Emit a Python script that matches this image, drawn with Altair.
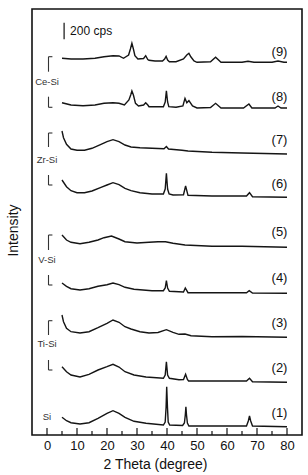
import altair as alt
import pandas as pd

# ---- XRD traces: 2-theta (degree) and stacked intensity (arbitrary units, offset per pattern)
t1_x = [5, 6.5, 8, 11, 14, 17, 20, 22, 24, 26, 29, 33, 38.8, 39.4, 39.7, 39.9, 40.15, 40.4, 40.9,
        45.2, 45.8, 46.1, 46.3, 46.5, 46.8, 47.3, 55, 66.5, 67.1, 67.5, 67.9, 68.5, 80]
t1_y = [17.7, 14.3, 12.3, 11, 12.3, 16.7, 21.7, 24.3, 21.7, 17.7, 13.7, 11.7, 10, 13, 28, 48.3, 28, 13, 10,
        9.5, 12, 20, 28.3, 20, 12, 9, 9, 9, 14, 19, 14, 9, 8.3]

t2_x = [5, 6.5, 8, 11, 14, 17, 20, 22, 24, 26, 29, 33, 38.8, 39.4, 39.8, 40.2, 40.8, 44, 45.5, 46.2,
        46.8, 47.2, 55, 66.5, 67.5, 68.5, 80]
t2_y = [68.3, 63.3, 60, 58, 60.7, 65, 68.3, 70.7, 68, 63.3, 60, 58, 56.7, 60, 73.3, 60, 56.7, 55.3, 55.5, 60.7,
        55.5, 54, 54, 54, 56.7, 53.3, 52.7]

t3_x = [5, 5.5, 6.5, 8, 11, 14, 17, 20, 22, 24, 26, 28, 31, 34, 37, 39.8, 42, 44, 46, 48, 55, 65, 80]
t3_y = [120, 113.3, 106.7, 103.3, 102, 103.3, 107.3, 111.7, 115, 112.7, 108.3, 106, 103.3, 102, 102.5, 105.3,
        102.7, 100.7, 101, 99.3, 98.3, 98.5, 97.7]

t4_x = [5, 6.5, 8, 11, 14, 17, 20, 22, 24, 26, 29, 35, 38.8, 39.4, 39.8, 40.2, 40.8, 45.5, 46.1, 47, 55,
        66.5, 67.4, 68.5, 80]
t4_y = [152, 148.7, 146.3, 145, 146.3, 148.7, 150.3, 152, 150.3, 147.7, 145.7, 144.3, 144.3, 147, 154.3, 147,
        143.7, 143, 147, 142.3, 142.3, 142.3, 144.3, 142, 141.7]

t5_x = [5, 6.5, 8, 11, 14, 17, 19, 21.5, 24, 26, 30, 34, 37, 39.5, 42, 46, 55, 65, 80]
t5_y = [200, 195, 192.7, 191.3, 192.7, 195, 197.3, 199, 196, 193.3, 192, 192.7, 193.3, 193.3, 191.7, 190,
        188.7, 188.7, 187.7]

t6_x = [5, 6.5, 8, 10, 12.5, 15, 18, 20, 22, 24, 26, 28, 31, 35, 38.8, 39.4, 39.8, 40.2, 40.7, 42, 45.5,
        46.2, 47, 55, 66.5, 67.5, 68.5, 80]
t6_y = [255, 248.3, 244.3, 242.3, 242.3, 244, 247.7, 250, 252.3, 250.3, 246.7, 244.3, 242.3, 241, 241, 246,
        261.7, 246, 241, 240, 240.3, 249, 239.7, 239, 239, 242.3, 238.3, 237.7]

t7_x = [5, 5.5, 6.5, 8, 10, 12.5, 15, 18, 20, 22, 24, 26, 28, 31, 35, 39, 39.8, 40.5, 45, 47, 55, 65, 80]
t7_y = [304, 297.3, 290.7, 286, 284.7, 284.7, 286.7, 290.7, 293.3, 295.3, 293.3, 290, 288, 287.3, 286.7,
        286.3, 288.5, 286, 284.7, 284, 282.7, 282, 281]

t8_x = [5, 8, 12, 16, 19, 22, 24, 25.8, 27.3, 27.9, 28.3, 28.8, 29.5, 30.5, 32.2, 32.9, 33.6, 34, 38.8,
        39.4, 39.8, 40.2, 40.6, 43, 45.3, 46, 46.6, 47.3, 48.5, 50, 54.5, 56.2, 58, 65.5, 67.3, 68.3,
        76, 77, 78, 80]
t8_y = [332.3, 330, 329.3, 330, 331.7, 332.3, 331.7, 330, 335, 340, 344, 340, 331.7, 329, 330, 332.3, 330,
        328.3, 328.3, 333, 344.3, 333, 328.3, 327.7, 329, 336.7, 332.3, 334.3, 329, 327, 327.5, 331.7, 327,
        327, 331, 327, 327, 329, 327, 327]

t9_x = [5, 8, 12, 16, 19, 22, 24, 25.5, 27.2, 27.8, 28.3, 28.8, 29.3, 30.3, 32.2, 32.9, 33.6, 34, 36,
        38.5, 39.2, 39.7, 40.2, 40.8, 43, 45.5, 46.6, 47.3, 48, 49, 50, 54.5, 56.2, 58, 65, 67, 69, 75,
        77, 79, 80]
t9_y = [376.7, 376, 376, 376.7, 378.3, 379.3, 379, 376.7, 380, 386, 391.7, 386, 379.3, 376, 376.5, 379.3,
        375.5, 374.7, 374, 374, 376, 378.7, 375, 373.3, 373.3, 376, 380, 381.7, 378, 374, 372.7, 373.3,
        377.7, 372.7, 372.7, 373.7, 372.7, 372.7, 374, 372.7, 372.7]

# ---- pattern labels
pattern_labels = ["(1)", "(2)", "(3)", "(4)", "(5)", "(6)", "(7)", "(8)", "(9)"]
pattern_label_y = [22, 67, 112, 157, 203, 251, 295, 338, 383]
pattern_label_x = 77.5

# ---- sample group labels and their brackets
group_names = ["Ce-Si", "Zr-Si", "V-Si", "Ti-Si", "Si"]
group_label_y = [353, 275, 175, 90.7, 18.3]
bracket_top = [(378.3, 363.3), (302, 288), (200, 185), (114.3, 100)]
bracket_bottom = [(338.3, 327.7), (260, 250), (160, 150), (75, 65)]

# ---- scale bar (200 cps)
scalebar_x = 5.7
scalebar_y = (395.7, 412.3)
scalebar_text = "200 cps"

# ---- axis ticks
major_ticks = [0, 10, 20, 30, 40, 50, 60, 70, 80]
minor_ticks = [5, 15, 25, 35, 45, 55, 65, 75]

xs = [t1_x, t2_x, t3_x, t4_x, t5_x, t6_x, t7_x, t8_x, t9_x]
ys = [t1_y, t2_y, t3_y, t4_y, t5_y, t6_y, t7_y, t8_y, t9_y]
rows = []
for k, (xx, yy) in enumerate(zip(xs, ys)):
    for i, (a, b) in enumerate(zip(xx, yy)):
        rows.append({"trace": k + 1, "i": i, "x": a, "y": b})
df = pd.DataFrame(rows)

FONT = "Liberation Sans"
W, H = 270, 426

xscale = alt.Scale(domain=[-5, 85], nice=False, zero=False)
yscale = alt.Scale(domain=[0, 426], nice=False, zero=False)

X = alt.X("x:Q", scale=xscale,
          axis=alt.Axis(values=major_ticks, ticks=False, domain=False, grid=False,
                        labelFontSize=13, labelFont=FONT, labelColor="#111", labelPadding=4,
                        title="2 Theta (degree)", titleFont=FONT, titleFontSize=14,
                        titleFontWeight="normal", titleColor="#111",
                        titleX=123, titleY=29, titleBaseline="middle", titleAnchor="middle"))
Y = alt.Y("y:Q", scale=yscale,
          axis=alt.Axis(labels=False, ticks=False, domain=False, grid=False,
                        title="Intensity", titleFont=FONT, titleFontSize=14,
                        titleFontWeight="normal", titleColor="#111",
                        titleX=-19, titleY=221, titleAngle=-90,
                        titleAlign="center", titleBaseline="middle"))

lines = alt.Chart(df).mark_line(color="#151515", strokeWidth=1.4).encode(
    x=X, y=Y, detail="trace:N", order="i:Q")

maj = alt.Chart(pd.DataFrame({"x": major_ticks})).mark_rule(color="#111", strokeWidth=1.2).encode(
    x=X, y=alt.value(H), y2=alt.value(H - 7))
mnr = alt.Chart(pd.DataFrame({"x": minor_ticks})).mark_rule(color="#111", strokeWidth=1.2).encode(
    x=X, y=alt.value(H), y2=alt.value(H - 4))

plabels = alt.Chart(pd.DataFrame({"x": [pattern_label_x] * 9, "y": pattern_label_y,
                                  "t": pattern_labels})).mark_text(
    font=FONT, fontSize=13, color="#111", align="center", baseline="middle").encode(
    x=X, y=Y, text="t:N")

glabels = alt.Chart(pd.DataFrame({"x": [0] * 5, "y": group_label_y, "t": group_names})).mark_text(
    font=FONT, fontSize=9.5, color="#333", align="center", baseline="middle").encode(
    x=X, y=Y, text="t:N")

seg = []
for (a, b) in bracket_top:
    seg.append({"x": 0.5, "x2": 0.5, "y": a, "y2": b})
    seg.append({"x": 0.5, "x2": 1.8, "y": a, "y2": a})
for (a, b) in bracket_bottom:
    seg.append({"x": 0.5, "x2": 0.5, "y": a, "y2": b})
    seg.append({"x": 0.5, "x2": 1.8, "y": b, "y2": b})
brackets = alt.Chart(pd.DataFrame(seg)).mark_rule(color="#333", strokeWidth=1.1).encode(
    x=X, x2="x2:Q", y=Y, y2="y2:Q")

sbar = alt.Chart(pd.DataFrame({"x": [scalebar_x], "y": [scalebar_y[0]], "y2": [scalebar_y[1]]})).mark_rule(
    color="#111", strokeWidth=1.2).encode(x=X, y=Y, y2="y2:Q")
stext = alt.Chart(pd.DataFrame({"x": [scalebar_x + 2], "y": [sum(scalebar_y) / 2], "t": [scalebar_text]})).mark_text(
    font=FONT, fontSize=12, color="#111", align="left", baseline="middle").encode(x=X, y=Y, text="t:N")

chart = alt.layer(lines, maj, mnr, plabels, glabels, brackets, sbar, stext).properties(
    width=W, height=H,
    autosize=alt.AutoSizeParams(type="none"),
    padding={"left": 32, "top": 9, "right": 6, "bottom": 40},
    background="white",
).configure_view(stroke="#111", strokeWidth=1.6)

chart.save("out.html", embed_options={"renderer": "svg", "actions": False})
